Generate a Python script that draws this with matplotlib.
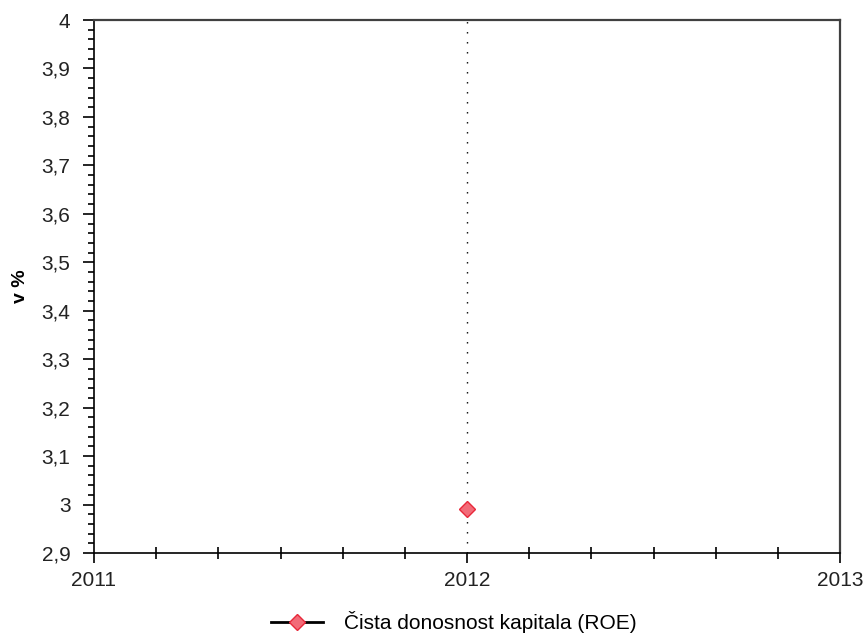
import matplotlib.pyplot as plt
from matplotlib.ticker import FuncFormatter, MultipleLocator

plt.rcParams['font.family'] = ['Liberation Sans', 'DejaVu Sans']

years = [2012]
roe = [2.99]
series_label = "Čista donosnost kapitala (ROE)"
x_ticks = [2011, 2012, 2013]

fig = plt.figure(figsize=(8.67, 6.36), dpi=100)
ax = fig.add_axes([94/867, 1 - 553/636, (840 - 94)/867, (553 - 20)/636])

ax.axvline(2012, color='black', lw=1.0, linestyle=(0, (1, 6.2)), zorder=1)
ax.plot(years, roe, color='black', lw=2, marker='D', markersize=8.2,
        markerfacecolor='#f26b78', markeredgecolor='#e8283a', markeredgewidth=1,
        label=series_label, zorder=3)

ax.set_xlim(2011, 2013)
ax.set_ylim(2.9, 4.0)
ax.set_xticks(x_ticks)
ax.set_xticklabels([str(t) for t in x_ticks])
ax.xaxis.set_minor_locator(MultipleLocator(1/6))
ax.yaxis.set_major_locator(MultipleLocator(0.1))
ax.yaxis.set_minor_locator(MultipleLocator(0.02))
ax.yaxis.set_major_formatter(FuncFormatter(lambda v, p: ('%g' % round(v, 1)).replace('.', ',')))

ax.tick_params(axis='x', which='major', direction='out', length=7, width=1.2,
               labelsize=15, pad=6)
ax.tick_params(axis='x', which='minor', direction='inout', length=8, width=1.2)
ax.tick_params(axis='y', which='major', direction='out', length=8, width=1.2,
               labelsize=15, pad=9)
ax.tick_params(axis='y', which='minor', direction='out', length=4, width=1.2)
for lbl in ax.get_xticklabels() + ax.get_yticklabels():
    lbl.set_color('#222222')

for side in ['left', 'bottom']:
    ax.spines[side].set_color('black')
    ax.spines[side].set_linewidth(1.2)
for side in ['top', 'right']:
    ax.spines[side].set_color('#404040')
    ax.spines[side].set_linewidth(1.6)

ax.set_ylabel("v %", fontsize=14, fontweight='bold', labelpad=9)

fig.legend(loc='center', bbox_to_anchor=(0.5 + 20/867, 1 - 622/636), frameon=False,
           fontsize=15, handlelength=2.5, handletextpad=1.0, markerscale=1.0)

fig.savefig("out.png", dpi=100)
